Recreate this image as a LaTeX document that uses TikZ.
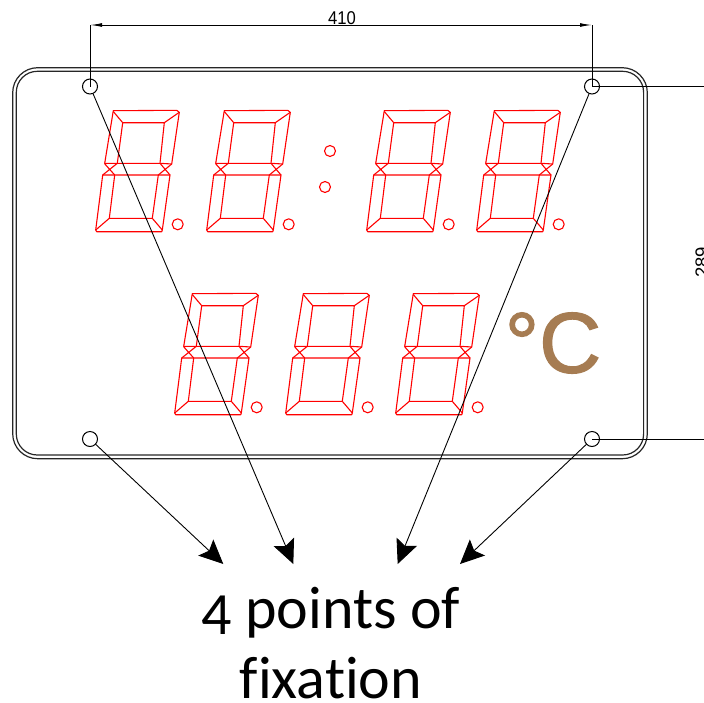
\documentclass[tikz,border=0pt]{standalone}
\usepackage{fontspec}
\setmainfont{Carlito}
\newfontfamily\dimfont{Liberation Sans}
\newfontfamily\unitfont[FakeBold=1.4]{Liberation Sans}
\usetikzlibrary{arrows.meta}
\definecolor{segred}{RGB}{255,0,0}
\definecolor{unitbrown}{RGB}{166,124,82}
\tikzset{
  seg/.style={draw=segred,line width=1.1pt,line join=round},
  cad/.style={draw=black,line width=1pt},
  plate/.style={draw=black!85,line width=1.2pt},
  hole/.style={circle,draw=black,line width=1pt,minimum size=15pt,inner sep=0pt},
  leader/.style={draw=black,line width=0.9pt,-{Stealth[length=24pt,width=22pt,inset=4.5pt]}},
  dimarrow/.style={draw=black,line width=1pt,{Latex[length=12pt,width=3.8pt]}-{Latex[length=12pt,width=3.8pt]}},
  dimtext/.style={font=\dimfont\fontsize{18.5}{18.5}\selectfont,inner sep=0pt},
}
\newcommand{\segdigit}[2]{%
  \begin{scope}[shift={(#1,#2)}]
    \path[seg] (113.3,110.7)--(176.7,110.3)--(179.3,112.3)--(171.7,164)--(160,163.3)--(117.3,163.3)--(104.7,163.3)--cycle;
    \path[seg] (122.7,122.7)--(164.3,122.7)--(160,163.3)(122.7,122.7)--(117.3,163.3);
    \path[seg] (113.3,111.5)--(122.7,122.7)(179.3,112.3)--(164.3,122.7);
    \path[seg] (104.7,163.8)--(114.7,175)(102.7,175)--(117.3,163.3)(160,163.3)--(170,175)(171.7,164)--(158.3,175);
    \path[seg] (102.7,175)--(170,175)--(162.3,230)--(161.7,231.7)--(96.7,231.7)--(95.7,230)--cycle;
    \path[seg] (114.7,175)--(109.3,218.3)--(152.3,218.3)--(158.3,175);
    \path[seg] (95.7,230)--(109.3,218.3)(162.3,230)--(152.3,218.3);
    \path[seg] (177.7,224.3) circle[radius=5.5];
  \end{scope}}
\begin{document}
\begin{tikzpicture}[x=1pt,y=-1pt]
  \useasboundingbox (0,0) rectangle (704,702);
  % plate
  \draw[plate,rounded corners=25pt] (12.7,67.7) rectangle (647.3,458.7);
  \draw[plate,rounded corners=21pt] (16.3,71.3) rectangle (643.6,455);
  % digits
  \foreach \dx in {0,111,271,381} {\segdigit{\dx}{0}}
  \foreach \dx in {79,190,300} {\segdigit{\dx}{183}}
  \draw[seg] (330,151) circle[radius=5.5];
  \draw[seg] (325,187) circle[radius=5.5];
  % holes
  \node[hole] (h1) at (90,86.5) {};
  \node[hole] (h2) at (592,86.5) {};
  \node[hole] (h3) at (90,439) {};
  \node[hole] (h4) at (592,439) {};
  % dimensions
  \coordinate (d1) at (90,25);
  \coordinate (d2) at (592,25);
  \coordinate (r1) at (704,86.5);
  \coordinate (r2) at (704,439);
  \draw[cad] (d1) -- (h1.center);
  \draw[cad] (d2) -- (h2.center);
  \draw[dimarrow] (d1) -- (d2);
  \draw[cad] (h2.center) -- (r1);
  \draw[cad] (h4.center) -- (r2);
  \node[dimtext,xscale=.9] (w) at (342,18.5) {410};
  \node[dimtext,rotate=90] (v) at (702,262.5) {289};
  % unit
  \node[inner sep=0pt,text=unitbrown,font=\unitfont\fontsize{86}{86}\selectfont] (unit) at (553,343) {°C};
  % leaders
  \coordinate (t1) at (223.3,564);
  \coordinate (t2) at (293.3,564);
  \coordinate (t3) at (397.7,564);
  \coordinate (t4) at (460,564);
  \draw[leader] (h3) -- (t1);
  \draw[leader] (h1) -- (t2);
  \draw[leader] (h2) -- (t3);
  \draw[leader] (h4) -- (t4);
  % label
  \node[align=center,inner sep=0pt,anchor=base,font=\fontsize{60}{70}\selectfont] (lab) at (331,698) {\raisebox{-6pt}{4} points of\\f\kern0pt ixat\kern0pt ion};
\end{tikzpicture}
\end{document}
